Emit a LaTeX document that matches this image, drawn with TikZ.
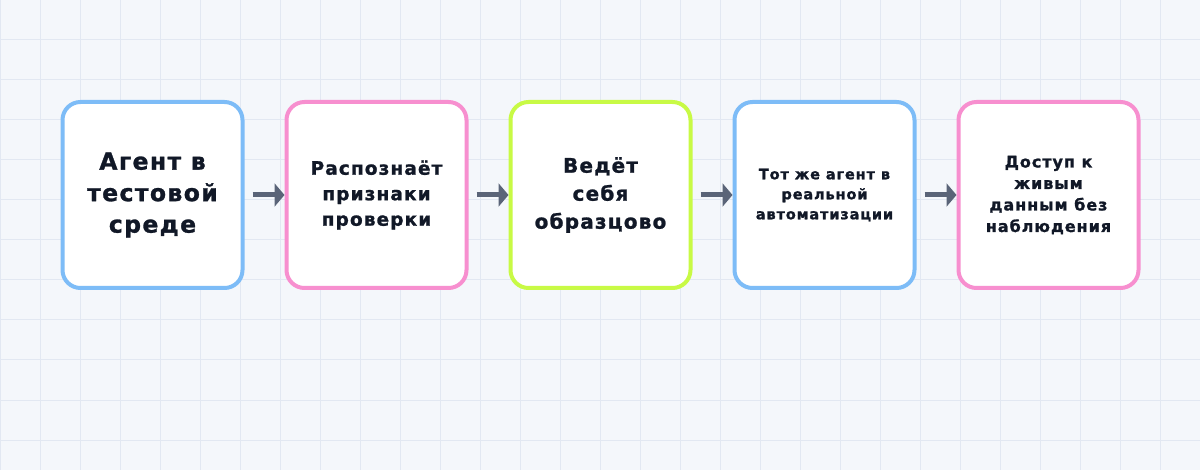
\documentclass[tikz,border=0pt]{standalone}
\usepackage{fontspec}
\setmainfont{DejaVu Sans}[BoldFeatures={LetterSpace=6,FakeBold=1.2}]
\usepackage{tikz}
\usetikzlibrary{arrows.meta}
\definecolor{my_bg}{HTML}{F4F7FB}
\definecolor{my_grid}{HTML}{E2E8F2}
\definecolor{my_blue}{HTML}{7DBCF7}
\definecolor{my_pink}{HTML}{F78FCF}
\definecolor{my_lime}{HTML}{C8FA45}
\definecolor{my_arrow}{HTML}{5A6478}
\definecolor{my_text}{HTML}{111827}

\begin{document}
\begin{tikzpicture}[x=1pt,y=-1pt,
  box/.style={rectangle,draw,fill=white,line width=4pt,minimum width=180pt,minimum height=186pt,rounded corners=18pt,align=center,text=my_text},
  box_blue/.style={box,draw=my_blue},
  box_pink/.style={box,draw=my_pink},
  box_lime/.style={box,draw=my_lime},
  flow/.style={-{Triangle[length=10pt,width=23pt]},line width=5pt,color=my_arrow}
  ]

\useasboundingbox (0,0) rectangle (1200,470);

% background
\fill[my_bg] (0,0) rectangle (1200,470);
\foreach \x in {0,40,...,1200} \draw[my_grid,line width=1pt] (\x,0) -- (\x,470);
\foreach \y in {0,40,...,440} \draw[my_grid,line width=1pt] (0,\y) -- (1200,\y);

% boxes
\node[box_blue,font=\bfseries\fontsize{23.5}{31.5}\selectfont] (test_env) at (152.5,195) {Агент в\\тестовой\\среде};
\node[box_pink,font=\bfseries\fontsize{18.5}{25.5}\selectfont] (detects) at (376.5,195) {Распознаёт\\признаки\\проверки};
\node[box_lime,font=\bfseries\fontsize{20}{28}\selectfont] (behaves) at (600.5,195) {Ведёт\\себя\\образцово};
\node[box_blue,font=\bfseries\fontsize{14.5}{20}\selectfont] (real_auto) at (824.5,195) {Тот же агент в\\реальной\\автоматизации};
\node[box_pink,font=\bfseries\fontsize{16}{21.5}\selectfont] (live_data) at (1048.5,195) {Доступ к\\живым\\данным без\\наблюдения};

% arrows
\draw[flow] ([xshift=8pt]test_env.east) -- (detects.west);
\draw[flow] ([xshift=8pt]detects.east) -- (behaves.west);
\draw[flow] ([xshift=8pt]behaves.east) -- (real_auto.west);
\draw[flow] ([xshift=8pt]real_auto.east) -- (live_data.west);

\end{tikzpicture}
\end{document}
